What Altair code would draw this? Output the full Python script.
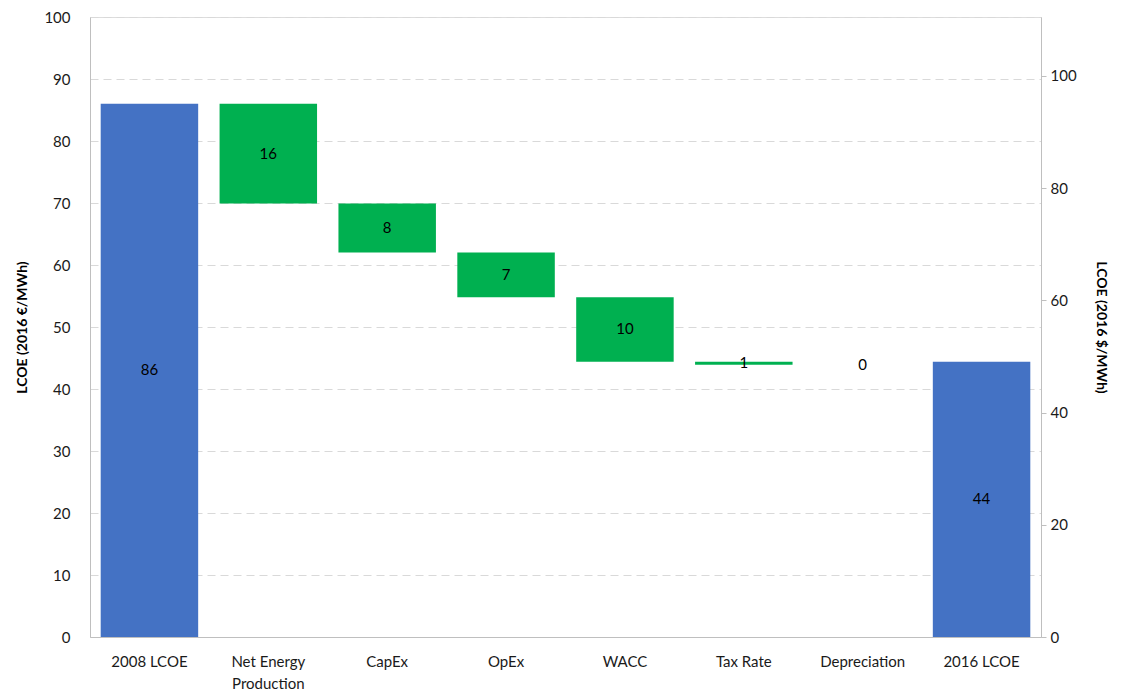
import altair as alt
import pandas as pd

categories = ["2008 LCOE", "Net Energy Production", "CapEx", "OpEx", "WACC",
              "Tax Rate", "Depreciation", "2016 LCOE"]
bar_start = [0, 86.0, 69.9, 62.0, 54.8, 44.4, 43.9, 0]
bar_end = [86.0, 69.9, 62.0, 54.8, 44.4, 43.9, 43.9, 44.4]
value_labels = ["86", "16", "8", "7", "10", "1", "0", "44"]
bar_kind = ["total", "change", "change", "change", "change", "change", "change", "total"]
eur_ticks = [0, 10, 20, 30, 40, 50, 60, 70, 80, 90, 100]
usd_ticks = [0, 20, 40, 60, 80, 100]
usd_axis_max = 110.5

df = pd.DataFrame({
    "cat": categories,
    "start": bar_start,
    "end": bar_end,
    "label": value_labels,
    "kind": bar_kind,
})
df["mid"] = (df["start"] + df["end"]) / 2

FONT = "Lato"

x = alt.X("cat:N", sort=categories, title=None,
          scale=alt.Scale(paddingInner=0.18, paddingOuter=0.09),
          axis=alt.Axis(labelAngle=0, ticks=False, domainColor="#bfbfbf",
                        labelFontSize=15, labelColor="#1a1a1a", labelFont=FONT,
                        labelPadding=17, labelLineHeight=22,
                        labelExpr="datum.label == 'Net Energy Production' ? ['Net Energy', 'Production'] : datum.label"))

yscale = alt.Scale(domain=[0, 100], nice=False, zero=True)
yaxis = alt.Axis(values=eur_ticks, title="LCOE (2016 €/MWh)", titleFontSize=14,
                 titleFont=FONT, titleFontWeight="bold", titleColor="#000000",
                 labelFontSize=15, labelFont=FONT, labelColor="#1a1a1a",
                 ticks=False, labelPadding=20, titlePadding=14,
                 domainColor="#bfbfbf", grid=True, gridColor="#d9d9d9",
                 gridDash=[8, 5], gridWidth=1)

bars = alt.Chart(df).mark_bar().encode(
    x=x,
    y=alt.Y("start:Q", scale=yscale, axis=yaxis),
    y2="end:Q",
    color=alt.Color("kind:N", scale=alt.Scale(domain=["total", "change"],
                                              range=["#4472C4", "#00B050"]),
                    legend=None),
)

texts = alt.Chart(df).mark_text(fontSize=15, font=FONT, color="#000000",
                                baseline="middle").encode(
    x=alt.X("cat:N", sort=categories),
    y=alt.Y("mid:Q", scale=yscale),
    text="label:N",
)

left = alt.layer(bars, texts)

right = alt.Chart(pd.DataFrame({"v": [0]})).mark_point(opacity=0).encode(
    y=alt.Y("v:Q", scale=alt.Scale(domain=[0, usd_axis_max], nice=False),
            axis=alt.Axis(orient="right", values=usd_ticks,
                          title="LCOE (2016 $/MWh)", titleFontSize=14,
                          titleFont=FONT, titleFontWeight="bold",
                          titleColor="#000000", labelFontSize=15,
                          labelFont=FONT, labelColor="#1a1a1a",
                          tickColor="#bfbfbf", tickSize=5, labelPadding=4,
                          titlePadding=17, domainColor="#bfbfbf", grid=False)),
)

chart = alt.layer(left, right).resolve_scale(y="independent").properties(
    width=951, height=620,
    padding={"left": 7, "top": 2, "right": 3, "bottom": 0},
).configure_view(stroke=None).configure(background="white")

chart.save("out.html", embed_options={"renderer": "svg", "actions": False})
